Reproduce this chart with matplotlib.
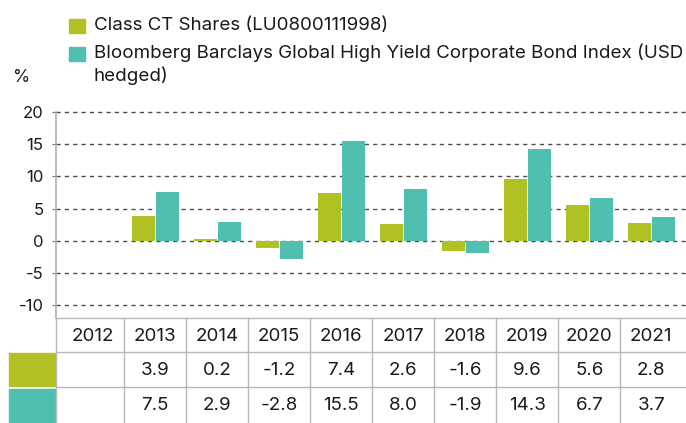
import numpy as np
import matplotlib.pyplot as plt
from matplotlib.patches import Rectangle
from matplotlib.lines import Line2D
from matplotlib.transforms import blended_transform_factory

plt.rcParams['font.family'] = ['Inter', 'DejaVu Sans']
plt.rcParams['axes.unicode_minus'] = False

# data
years = ['2012', '2013', '2014', '2015', '2016', '2017', '2018', '2019', '2020', '2021']
fund = [np.nan, 3.9, 0.2, -1.2, 7.4, 2.6, -1.6, 9.6, 5.6, 2.8]
index = [np.nan, 7.5, 2.9, -2.8, 15.5, 8.0, -1.9, 14.3, 6.7, 3.7]
fund_label = 'Class CT Shares (LU0800111998)'
index_label = 'Bloomberg Barclays Global High Yield Corporate Bond Index (USD\nhedged)'

green = '#b0c223'
teal = '#4fbfb0'
txt = '#1a1a1a'
W, H = 686, 423

fig = plt.figure(figsize=(W / 100, H / 100), dpi=100)

def fx(px):
    return px / W

def fy(py):
    return 1 - py / H

# main axes
ax = fig.add_axes([fx(56), fy(305), fx(686 - 56), (305 - 112) / H])
x = np.arange(len(years))
bw = 0.37
ax.bar(x - 0.195, fund, bw, color=green, zorder=3)
ax.bar(x + 0.195, index, bw, color=teal, zorder=3)
ax.set_xlim(-0.6, len(years) - 1 + 0.56)
ax.set_ylim(-10, 20)
ax.set_yticks(np.arange(-10, 21, 5))
ax.yaxis.grid(True, linestyle=(0, (3, 3)), color='#4d4d4d', linewidth=1)
for gl in ax.get_ygridlines():
    gl.set_clip_on(False)
ax.set_axisbelow(True)
ax.set_xticks([])
for s in ['top', 'right', 'bottom']:
    ax.spines[s].set_visible(False)
ax.spines['left'].set_color('#b0b0b0')
ax.spines['left'].set_linewidth(1.2)
ax.spines['left'].set_bounds(-10, 20)
ax.tick_params(axis='y', length=3, color='#777777', labelsize=12, pad=6, labelcolor=txt)

# spine continues down to the table
fig.add_artist(Line2D([fx(56), fx(56)], [fy(305), fy(318)], color='#b0b0b0', lw=1.2))

# legend
fig.add_artist(Rectangle((fx(69), fy(33)), fx(16), 14 / H, color=green))
fig.add_artist(Rectangle((fx(69), fy(61)), fx(16), 14 / H, color=teal))
fig.text(fx(94), fy(26), fund_label, fontsize=13.5, va='center', color=txt)
fig.text(fx(94), fy(44), index_label, fontsize=13.5, va='top', color=txt,
         linespacing=1.25)
fig.text(fx(22), fy(77), '%', fontsize=12.5, va='center', ha='center', color=txt)

# table
tr = blended_transform_factory(ax.transData, fig.transFigure)
tra = blended_transform_factory(ax.transAxes, fig.transFigure)
lc = '#b8b8b8'
for ry in [318, 352, 387]:
    fig.add_artist(Line2D([0, 1], [fy(ry), fy(ry)], transform=tra, color=lc, lw=1))
fig.add_artist(Line2D([0, 0], [fy(318), 0], transform=tra, color=lc, lw=1))
for i in range(len(years) - 1):
    fig.add_artist(Line2D([i + 0.5, i + 0.5], [fy(318), 0], transform=tr, color=lc, lw=1))

fig.add_artist(Rectangle((fx(9), fy(386)), fx(46), 33 / H, color=green))
fig.add_artist(Rectangle((fx(9), 0), fx(46), (423 - 389) / H, color=teal))

for i, yr in enumerate(years):
    fig.text(i, fy(336), yr, transform=tr, ha='center', va='center', fontsize=13.5, color=txt)
    if not np.isnan(fund[i]):
        fig.text(i, fy(370), f'{fund[i]:.1f}', transform=tr, ha='center', va='center',
                 fontsize=13.5, color=txt)
    if not np.isnan(index[i]):
        fig.text(i, fy(405), f'{index[i]:.1f}', transform=tr, ha='center', va='center',
                 fontsize=13.5, color=txt)

fig.savefig('out.png', dpi=100)
